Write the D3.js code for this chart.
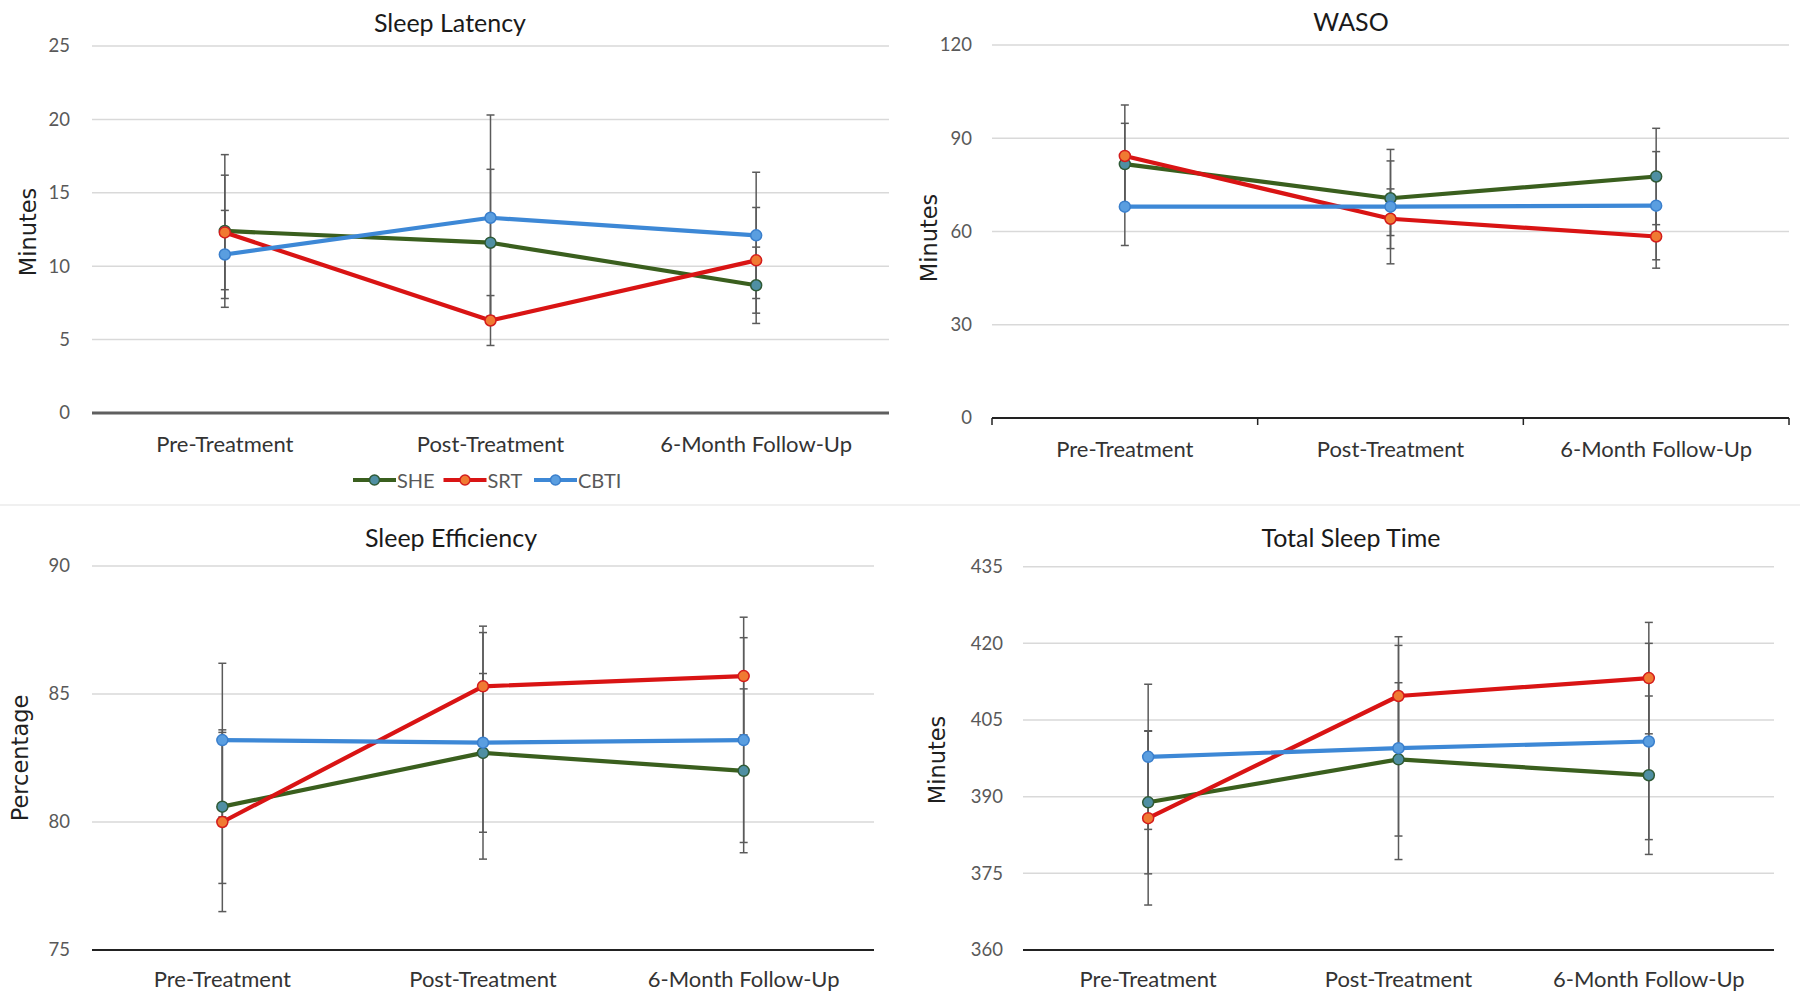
<!DOCTYPE html>
<html>
<head>
<meta charset="utf-8">
<script src="https://cdn.jsdelivr.net/npm/d3@7"></script>
<style>
  html, body { margin: 0; padding: 0; background: #ffffff; }
  svg { display: block; }
</style>
</head>
<body>
<svg id="chart" width="1800" height="1004"></svg>
<script>
// ---------------- DATA ----------------
const categories = ["Pre-Treatment", "Post-Treatment", "6-Month Follow-Up"];
const seriesNames = ["SHE", "SRT", "CBTI"];

// Sleep Latency (minutes)
const latencySHE = [12.4, 11.6, 8.7];
const latencySHEErr = [5.2, 5.0, 2.6];
const latencySRT = [12.3, 6.3, 10.4];
const latencySRTErr = [3.9, 1.7, 3.6];
const latencyCBTI = [10.8, 13.3, 12.1];
const latencyCBTIErr = [3.0, 7.0, 4.3];
const latencyTicks = [0, 5, 10, 15, 20, 25];

// WASO (minutes)
const wasoSHE = [81.7, 70.7, 77.7];
const wasoSHEErr = [13.1, 12.0, 15.5];
const wasoSRT = [84.3, 64.1, 58.4];
const wasoSRTErr = [16.4, 9.6, 10.2];
const wasoCBTI = [68.0, 68.0, 68.3];
const wasoCBTIErr = [12.5, 18.4, 17.4];
const wasoTicks = [0, 30, 60, 90, 120];

// Sleep Efficiency (percentage)
const effSHE = [80.6, 82.7, 82.0];
const effSHEErr = [3.0, 3.1, 3.2];
const effSRT = [80.0, 85.3, 85.7];
const effSRTErr = [3.5, 2.1, 2.3];
const effCBTI = [83.2, 83.1, 83.2];
const effCBTIErr = [3.0, 4.55, 4.0];
const effTicks = [75, 80, 85, 90];

// Total Sleep Time (minutes)
const tstSHE = [388.9, 397.3, 394.2];
const tstSHEErr = [14.0, 15.0, 15.5];
const tstSRT = [385.8, 409.7, 413.2];
const tstSRTErr = [17.0, 9.9, 10.9];
const tstCBTI = [397.8, 399.5, 400.8];
const tstCBTIErr = [14.2, 21.8, 19.2];
const tstTicks = [360, 375, 390, 405, 420, 435];

// ---------------- STYLE ----------------
const lineColors = { SHE: "#3a5f1e", SRT: "#d91414", CBTI: "#3d88d6" };
const markerFill = { SHE: "#4f8fa3", SRT: "#f07a32", CBTI: "#5a9ee0" };
const markerStroke = { SHE: "#2f5a36", SRT: "#d41c1c", CBTI: "#3a7fcc" };
const LABEL_FONT = "Lato, 'Open Sans', sans-serif";
const YTITLE_FONT = "'DejaVu Sans', Verdana, sans-serif";

const svg = d3.select("#chart");

function makeSeries(she, sheErr, srt, srtErr, cbti, cbtiErr) {
  return [
    { name: "SHE", values: she, errs: sheErr },
    { name: "SRT", values: srt, errs: srtErr },
    { name: "CBTI", values: cbti, errs: cbtiErr }
  ];
}

function drawPanel(p) {
  const g = svg.append("g");
  const x = d3.scaleBand().domain(categories).range([p.x0, p.x1]).padding(0);
  const cx = c => x(c) + x.bandwidth() / 2;
  const y = d3.scaleLinear().domain(p.domain).range([p.yBottom, p.yTop]);

  // gridlines
  g.append("g").selectAll("line").data(p.ticks.slice(1)).join("line")
    .attr("x1", p.x0).attr("x2", p.x1)
    .attr("y1", d => y(d)).attr("y2", d => y(d))
    .attr("stroke", "#d9d9d9").attr("stroke-width", 1.5);

  // y-axis labels
  const yAxis = d3.axisLeft(y).tickValues(p.ticks).tickSize(0).tickPadding(0);
  const ya = g.append("g").attr("transform", `translate(${p.yLabelX},0)`).call(yAxis);
  ya.select(".domain").remove();
  ya.selectAll("text").attr("font-family", LABEL_FONT).attr("font-size", 18.5)
    .attr("fill", "#595959");

  // x-axis line
  g.append("line").attr("x1", p.x0).attr("x2", p.x1)
    .attr("y1", y(p.domain[0])).attr("y2", y(p.domain[0]))
    .attr("stroke", p.axisColor).attr("stroke-width", p.axisWidth);

  if (p.boundaryTicks) {
    const bounds = categories.map(c => x(c)).concat([p.x1]);
    g.append("g").selectAll("line").data(bounds).join("line")
      .attr("x1", d => d).attr("x2", d => d)
      .attr("y1", y(p.domain[0])).attr("y2", y(p.domain[0]) + 7)
      .attr("stroke", "#222").attr("stroke-width", 1.5);
  }

  // x-axis labels
  const xAxis = d3.axisBottom(x).tickSize(0).tickPadding(0);
  const xa = g.append("g").attr("transform", `translate(0,${p.catY})`).call(xAxis);
  xa.select(".domain").remove();
  xa.selectAll("text").attr("font-family", LABEL_FONT).attr("font-size", 22)
    .attr("fill", "#333").attr("dy", "0.32em");

  // title
  g.append("text").attr("x", p.titleX).attr("y", p.titleY)
    .attr("text-anchor", "middle").attr("dominant-baseline", "central")
    .attr("font-family", LABEL_FONT).attr("font-size", 25).attr("fill", "#1a1a1a")
    .text(p.title);

  // y title
  g.append("text")
    .attr("transform", `translate(${p.yTitleX},${p.yTitleY}) rotate(-90)`)
    .attr("text-anchor", "middle").attr("dominant-baseline", "central")
    .attr("font-family", YTITLE_FONT).attr("font-size", 22.5).attr("fill", "#1f1f1f")
    .text(p.yTitle);

  const capW = 4;
  // error bars
  p.series.forEach(s => {
    const eg = g.append("g");
    const pts = categories.map((c, i) => ({ c, v: s.values[i], e: s.errs[i] }));
    eg.selectAll("line.v").data(pts).join("line").attr("class", "v")
      .attr("x1", d => cx(d.c)).attr("x2", d => cx(d.c))
      .attr("y1", d => y(d.v + d.e)).attr("y2", d => y(d.v - d.e))
      .attr("stroke", "#5a5a5a").attr("stroke-width", 1.5);
    eg.selectAll("line.t").data(pts).join("line").attr("class", "t")
      .attr("x1", d => cx(d.c) - capW).attr("x2", d => cx(d.c) + capW)
      .attr("y1", d => y(d.v + d.e)).attr("y2", d => y(d.v + d.e))
      .attr("stroke", "#5a5a5a").attr("stroke-width", 1.5);
    eg.selectAll("line.b").data(pts).join("line").attr("class", "b")
      .attr("x1", d => cx(d.c) - capW).attr("x2", d => cx(d.c) + capW)
      .attr("y1", d => y(d.v - d.e)).attr("y2", d => y(d.v - d.e))
      .attr("stroke", "#5a5a5a").attr("stroke-width", 1.5);
  });

  // lines + markers
  const line = d3.line().x((d, i) => cx(categories[i])).y(d => y(d));
  p.series.forEach(s => {
    g.append("path").datum(s.values).attr("d", line)
      .attr("fill", "none").attr("stroke", lineColors[s.name])
      .attr("stroke-width", 4.2).attr("stroke-linejoin", "round");
  });
  p.series.forEach(s => {
    g.append("g").selectAll("circle").data(s.values).join("circle")
      .attr("cx", (d, i) => cx(categories[i])).attr("cy", d => y(d))
      .attr("r", 5.5).attr("fill", markerFill[s.name])
      .attr("stroke", markerStroke[s.name]).attr("stroke-width", 1.5);
  });
}

drawPanel({
  title: "Sleep Latency", titleX: 450, titleY: 22,
  yTitle: "Minutes", yTitleX: 28, yTitleY: 232,
  x0: 92, x1: 889, yTop: 46, yBottom: 413, domain: [0, 25], ticks: latencyTicks,
  yLabelX: 70, catY: 445, axisColor: "#5f5f5f", axisWidth: 3, boundaryTicks: false,
  series: makeSeries(latencySHE, latencySHEErr, latencySRT, latencySRTErr, latencyCBTI, latencyCBTIErr)
});
drawPanel({
  title: "WASO", titleX: 1351, titleY: 21,
  yTitle: "Minutes", yTitleX: 929, yTitleY: 238,
  x0: 992, x1: 1789, yTop: 45, yBottom: 418, domain: [0, 120], ticks: wasoTicks,
  yLabelX: 972, catY: 450, axisColor: "#222", axisWidth: 2, boundaryTicks: true,
  series: makeSeries(wasoSHE, wasoSHEErr, wasoSRT, wasoSRTErr, wasoCBTI, wasoCBTIErr)
});
drawPanel({
  title: "Sleep Efficiency", titleX: 451, titleY: 537,
  yTitle: "Percentage", yTitleX: 20, yTitleY: 758,
  x0: 92, x1: 874, yTop: 566, yBottom: 950, domain: [75, 90], ticks: effTicks,
  yLabelX: 70, catY: 980, axisColor: "#222", axisWidth: 2, boundaryTicks: false,
  series: makeSeries(effSHE, effSHEErr, effSRT, effSRTErr, effCBTI, effCBTIErr)
});
drawPanel({
  title: "Total Sleep Time", titleX: 1351, titleY: 537,
  yTitle: "Minutes", yTitleX: 937, yTitleY: 760,
  x0: 1023, x1: 1774, yTop: 566.7, yBottom: 950, domain: [360, 435], ticks: tstTicks,
  yLabelX: 1003, catY: 980, axisColor: "#222", axisWidth: 2, boundaryTicks: false,
  series: makeSeries(tstSHE, tstSHEErr, tstSRT, tstSRTErr, tstCBTI, tstCBTIErr)
});

// faint panel separator
svg.append("line").attr("x1", 0).attr("x2", 1800).attr("y1", 505).attr("y2", 505)
  .attr("stroke", "#f0f0f0").attr("stroke-width", 2);

// legend (under Sleep Latency)
const legendX = d3.scalePoint().domain(seriesNames).range([353, 534]);
const lg = svg.append("g").attr("transform", "translate(0,480)");
const items = lg.selectAll("g").data(seriesNames).join("g")
  .attr("transform", d => `translate(${legendX(d)},0)`);
items.append("line").attr("x1", 0).attr("x2", 43).attr("y1", 0).attr("y2", 0)
  .attr("stroke", d => lineColors[d]).attr("stroke-width", 4);
items.append("circle").attr("cx", 21.5).attr("cy", 0).attr("r", 5)
  .attr("fill", d => markerFill[d]).attr("stroke", d => markerStroke[d]).attr("stroke-width", 1.5);
items.append("text").attr("x", 44).attr("y", 0).attr("dominant-baseline", "central")
  .attr("font-family", LABEL_FONT).attr("font-size", 20).attr("fill", "#595959")
  .text(d => d);
</script>
</body>
</html>
